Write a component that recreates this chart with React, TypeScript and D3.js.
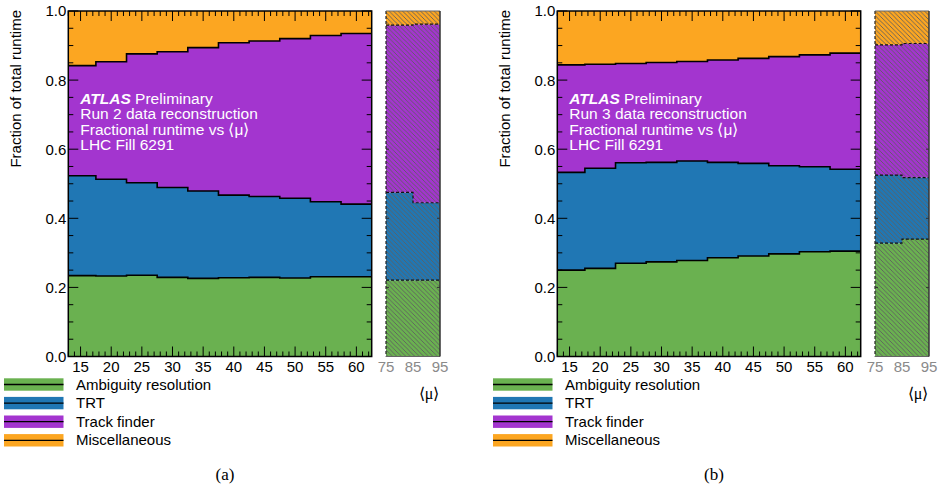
import React from 'react';
import * as d3 from 'd3';

// Stacked fractional runtime vs <mu>, ATLAS Run 2 (a) vs Run 3 (b) reconstruction.

const binCentres = [15, 20, 25, 30, 35, 40, 45, 50, 55, 60];
const extrapCentres = [80, 90];
const seriesNames = ['Ambiguity resolution', 'TRT', 'Track finder', 'Miscellaneous'];
const seriesColors = ['#6AB150', '#2077B4', '#A335CF', '#FCA621'];

// Run 2 fractions per bin
const run2Ambiguity = [0.234, 0.233, 0.235, 0.229, 0.226, 0.228, 0.229, 0.227, 0.231, 0.231];
const run2Trt = [0.289, 0.28, 0.268, 0.26, 0.253, 0.239, 0.234, 0.231, 0.217, 0.21];
const run2Track = [0.319, 0.34, 0.373, 0.393, 0.415, 0.441, 0.45, 0.462, 0.481, 0.494];
const run2Misc = [0.158, 0.147, 0.124, 0.118, 0.106, 0.092, 0.087, 0.08, 0.071, 0.065];
const run2ExtrapAmbiguity = [0.221, 0.221];
const run2ExtrapTrt = [0.254, 0.224];
const run2ExtrapTrack = [0.484, 0.517];
const run2ExtrapMisc = [0.041, 0.038];

// Run 3 fractions per bin
const run3Ambiguity = [0.25, 0.255, 0.27, 0.274, 0.278, 0.286, 0.291, 0.297, 0.303, 0.305];
const run3Trt = [0.283, 0.29, 0.291, 0.288, 0.288, 0.276, 0.268, 0.255, 0.246, 0.237];
const run3Track = [0.311, 0.301, 0.287, 0.289, 0.288, 0.296, 0.304, 0.316, 0.324, 0.336];
const run3Misc = [0.156, 0.154, 0.152, 0.149, 0.146, 0.142, 0.137, 0.132, 0.127, 0.122];
const run3ExtrapAmbiguity = [0.328, 0.34];
const run3ExtrapTrt = [0.197, 0.178];
const run3ExtrapTrack = [0.377, 0.388];
const run3ExtrapMisc = [0.098, 0.094];

const yTickLabels = ['0.0', '0.2', '0.4', '0.6', '0.8', '1.0'];
const xTickLabels = ['15', '20', '25', '30', '35', '40', '45', '50', '55', '60'];
const extrapTickLabels = ['75', '85', '95'];

const SANS = '"Liberation Sans", Arial, Helvetica, sans-serif';
const SERIF = '"Liberation Serif", "Times New Roman", serif';

type PanelProps = {
  id: string;
  dx: number;
  run: string;
  caption: string;
  series: number[][];
  extrap: number[][];
};

// cumulative boundaries [lower, upper] per series per bin
function stackUp(series: number[][]) {
  const n = series[0].length;
  const rows = d3.range(n).map((i) => {
    const r: Record<string, number> = {};
    series.forEach((s, k) => (r['s' + k] = s[i]));
    return r;
  });
  return d3.stack<Record<string, number>>().keys(series.map((_, k) => 's' + k))(rows);
}

function Panel({ id, dx, run, caption, series, extrap }: PanelProps) {
  const x = d3.scaleLinear().domain([13, 62.5]).range([68.3 + dx, 371.7 + dx]);
  const xe = d3.scaleLinear().domain([75, 95]).range([386 + dx, 440 + dx]);
  const y = d3.scaleLinear().domain([0, 1]).range([356.5, 11]);

  const edges = binCentres.map((c) => c - 2.5).concat([binCentres[binCentres.length - 1] + 2.5]);
  const eEdges = extrapCentres.map((c) => c - 5).concat([extrapCentres[extrapCentres.length - 1] + 5]);

  const stacked = stackUp(series);
  const stackedE = stackUp(extrap);

  const area = (xs: d3.ScaleLinear<number, number>, ed: number[]) =>
    d3.area<[number, number]>()
      .x((_, i) => xs(ed[i]))
      .y0((d) => y(d[0]))
      .y1((d) => y(d[1]))
      .curve(d3.curveStepAfter);
  const line = (xs: d3.ScaleLinear<number, number>, ed: number[]) =>
    d3.line<number>()
      .x((_, i) => xs(ed[i]))
      .y((d) => y(d))
      .curve(d3.curveStepAfter);

  const withEnd = (layer: d3.SeriesPoint<Record<string, number>>[]) => {
    const pts = layer.map((p) => [p[0], p[1]] as [number, number]);
    pts.push(pts[pts.length - 1]);
    return pts;
  };

  const [x0, x1] = x.range();
  const [ex0, ex1] = xe.range();
  const yMajor = d3.range(0, 1.001, 0.2);
  const yMinor = d3.range(0, 1.001, 0.05);
  const xMinor = d3.range(13, 63, 1);
  const xMajor = binCentres;

  return (
    <g>
      <defs>
        <clipPath id={id + '-clip'}>
          <rect x={x0} y={y(1)} width={x1 - x0} height={y(0) - y(1)} />
        </clipPath>
        <pattern id={id + '-hatch'} patternUnits="userSpaceOnUse" width={4.5} height={4.5}>
          <path d="M0,0 L4.5,4.5 M-1,3.5 L1,5.5 M3.5,-1 L5.5,1" stroke="#5f5f5f" strokeWidth={0.9} />
        </pattern>
      </defs>

      {/* main stack */}
      <g clipPath={`url(#${id}-clip)`}>
        {stacked.map((layer, k) => (
          <path key={'a' + k} d={area(x, edges)(withEnd(layer)) ?? ''} fill={seriesColors[k]} />
        ))}
        {stacked.slice(0, 3).map((layer, k) => (
          <path key={'l' + k} d={line(x, edges)(withEnd(layer).map((p) => p[1])) ?? ''}
            fill="none" stroke="#000" strokeWidth={1.6} />
        ))}
      </g>

      {/* extrapolation stack */}
      {stackedE.map((layer, k) => (
        <g key={'e' + k}>
          <path d={area(xe, eEdges)(withEnd(layer)) ?? ''} fill={seriesColors[k]} />
          <path d={area(xe, eEdges)(withEnd(layer)) ?? ''} fill={`url(#${id}-hatch)`} />
        </g>
      ))}
      {stackedE.slice(0, 3).map((layer, k) => (
        <path key={'el' + k} d={line(xe, eEdges)(withEnd(layer).map((p) => p[1])) ?? ''}
          fill="none" stroke="#111" strokeWidth={1.2} strokeDasharray="3,2" />
      ))}
      <line x1={ex0} x2={ex0} y1={y(1)} y2={y(0)} stroke="#222" strokeWidth={1.2} strokeDasharray="3,2" />
      <line x1={ex0} x2={ex1} y1={y(1)} y2={y(1)} stroke="#666" strokeWidth={1.2} />
      <line x1={ex0} x2={ex1} y1={y(0)} y2={y(0)} stroke="#666" strokeWidth={1.2} />
      <line x1={ex1} x2={ex1} y1={y(1)} y2={y(0)} stroke="#333" strokeWidth={1.5} />
      {yMajor.slice(1, -1).map((t) => (
        <g key={'et' + t}>
          <line x1={ex1} x2={ex1 - 3} y1={y(t)} y2={y(t)} stroke="#333" />
          <line x1={ex0} x2={ex0 + 3} y1={y(t)} y2={y(t)} stroke="#333" />
        </g>
      ))}
      {extrapTickLabels.map((t) => (
        <text key={'etl' + t} x={xe(+t)} y={372} textAnchor="middle" fontFamily={SANS}
          fontSize={15} fill="#8a8a8a">{t}</text>
      ))}
      <text x={xe(85) + 16} y={399} textAnchor="middle" fontFamily={SERIF} fontSize={16} fill="#000">⟨μ⟩</text>

      {/* frame and ticks */}
      <rect x={x0} y={y(1)} width={x1 - x0} height={y(0) - y(1)} fill="none" stroke="#000" strokeWidth={1.5} />
      {yMinor.map((t) => {
        const major = yMajor.some((m) => Math.abs(m - t) < 1e-6);
        const len = major ? 10 : 5;
        return (
          <g key={'yt' + t}>
            <line x1={x0} x2={x0 + len} y1={y(t)} y2={y(t)} stroke="#000" strokeWidth={1} />
            <line x1={x1} x2={x1 - len} y1={y(t)} y2={y(t)} stroke="#000" strokeWidth={1} />
          </g>
        );
      })}
      {xMinor.map((t) => {
        const major = xMajor.includes(t);
        const len = major ? 10 : 5;
        return (
          <g key={'xt' + t}>
            <line x1={x(t)} x2={x(t)} y1={y(0)} y2={y(0) - len} stroke="#000" strokeWidth={1} />
            <line x1={x(t)} x2={x(t)} y1={y(1)} y2={y(1) + len} stroke="#000" strokeWidth={1} />
          </g>
        );
      })}
      {yTickLabels.map((t) => (
        <text key={'ytl' + t} x={x0 - 2} y={y(+t)} dy="0.36em" textAnchor="end" fontFamily={SANS}
          fontSize={15} fill="#000">{t}</text>
      ))}
      {xTickLabels.map((t) => (
        <text key={'xtl' + t} x={x(+t)} y={372} textAnchor="middle" fontFamily={SANS}
          fontSize={15} fill="#000">{t}</text>
      ))}
      <text transform={`translate(${dx + 21},${y(1) - 1}) rotate(-90)`} textAnchor="end"
        fontFamily={SANS} fontSize={15} fill="#000">Fraction of total runtime</text>

      {/* ATLAS label */}
      <g fontFamily={SANS} fontSize={15.5} fill="#fff">
        <text x={x0 + 12} y={103.5}>
          <tspan fontWeight="bold" fontStyle="italic">ATLAS</tspan>
          <tspan> Preliminary</tspan>
        </text>
        <text x={x0 + 12} y={119}>{`Run ${run} data reconstruction`}</text>
        <text x={x0 + 12} y={134.5}>Fractional runtime vs ⟨μ⟩</text>
        <text x={x0 + 12} y={150}>LHC Fill 6291</text>
      </g>

      {/* legend */}
      {seriesNames.map((name, k) => {
        const cy = 384.5 + k * 18.6;
        return (
          <g key={'lg' + k}>
            <rect x={dx + 4} y={cy - 6.2} width={59.5} height={12.4} fill={seriesColors[k]} />
            <line x1={dx + 4} x2={dx + 63.5} y1={cy} y2={cy} stroke="#000" strokeWidth={1.3} />
            <text x={dx + 76} y={cy + 5} fontFamily={SANS} fontSize={15} fill="#000">{name}</text>
          </g>
        );
      })}

      <text x={x0 + (x1 - x0) / 2 + 5} y={480} textAnchor="middle" fontFamily={SERIF} fontSize={17} fill="#000">{caption}</text>
    </g>
  );
}

export default function App() {
  return (
    <div style={{ position: 'absolute', left: 0, top: 0, width: 939, height: 487, background: '#fff' }}>
      <svg width={939} height={487} viewBox="0 0 939 487">
        <rect width={939} height={487} fill="#fff" />
        <Panel id="pa" dx={0} run="2" caption="(a)"
          series={[run2Ambiguity, run2Trt, run2Track, run2Misc]}
          extrap={[run2ExtrapAmbiguity, run2ExtrapTrt, run2ExtrapTrack, run2ExtrapMisc]} />
        <Panel id="pb" dx={489} run="3" caption="(b)"
          series={[run3Ambiguity, run3Trt, run3Track, run3Misc]}
          extrap={[run3ExtrapAmbiguity, run3ExtrapTrt, run3ExtrapTrack, run3ExtrapMisc]} />
      </svg>
    </div>
  );
}
